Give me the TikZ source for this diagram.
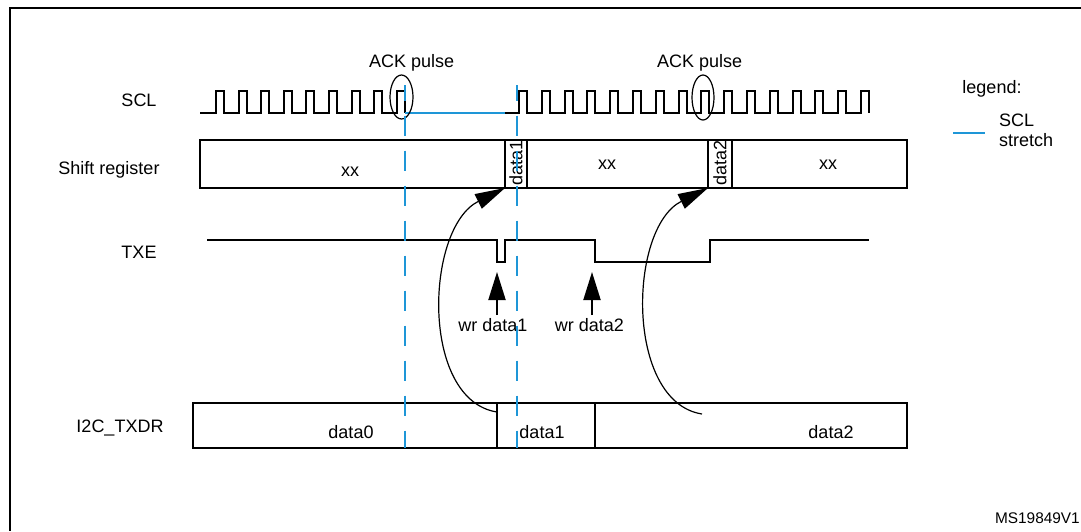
\documentclass[tikz,border=0pt]{standalone}
\usepackage{fontspec}
\setmainfont{Liberation Sans}
\usetikzlibrary{arrows.meta,shapes.geometric}
\definecolor{stretchblue}{RGB}{30,150,215}
\begin{document}
\begin{tikzpicture}[x=1pt,y=-1pt,
  font=\fontsize{18}{21}\selectfont,
  wave/.style={line width=2pt},
  cell/.style={draw,line width=2pt,anchor=north west,inner sep=0pt,outer sep=0pt},
  stretchline/.style={stretchblue,line width=2pt},
  guide/.style={stretchblue,line width=2pt,dash pattern=on 20pt off 15pt,dash phase=4.5pt},
  ackring/.style={draw,ellipse,line width=1.2pt,inner sep=0pt},
  lbl/.style={inner sep=0pt},
  loadarrow/.style={line width=1.2pt,-{Triangle[length=30pt,width=16pt]}},
  wrarrow/.style={line width=2pt,-{Triangle[length=28pt,width=17pt]}},
  frameline/.style={line width=2pt,line cap=butt}]
\useasboundingbox (0,0) rectangle (1081,531);
% frame
\draw[frameline] (1081,8) -- (10,8) -- (10,531);
% row labels
\node[lbl] (lscl) at (139,100) {SCL};
\node[lbl] (lsr) at (109,170) {Shift register};
\node[lbl] (ltxe) at (139,252) {TXE};
\node[lbl] (ltxdr) at (120,428) {I2C\_TXDR};
% SCL waveform, first burst
\draw[wave] (200,113) foreach \k in {0,...,8} {
  -- ({216+22.6*\k},113) -- ({216+22.6*\k},91) -- ({224+22.6*\k},91) -- ({224+22.6*\k},113) };
% clock stretch
\coordinate (st0) at (405,112.5);
\coordinate (st1) at (505,112.5);
\draw[stretchline] (st0) -- (st1);
% SCL waveform, second burst
\draw[wave] (505,113) foreach \k in {0,...,15} {
  -- ({519+22.8*\k},113) -- ({519+22.8*\k},91) -- ({527+22.8*\k},91) -- ({527+22.8*\k},113) };
% ACK pulse marks
\node[ackring,minimum width=23pt,minimum height=44pt] (ack1) at (401.5,97) {};
\node[ackring,minimum width=22pt,minimum height=45pt] (ack2) at (703,97.5) {};
\node[lbl] (ack1lbl) at (411.7,63) {ACK pulse};
\node[lbl] (ack2lbl) at (699.7,63) {ACK pulse};
% shift register cells
\node[cell,minimum width=305pt,minimum height=48pt] (sr0) at (200,140) {};
\node[cell,minimum width=22pt,minimum height=48pt] (sr1) at (505,140) {};
\node[cell,minimum width=181pt,minimum height=48pt] (sr2) at (527,140) {};
\node[cell,minimum width=24pt,minimum height=48pt] (sr3) at (708,140) {};
\node[cell,minimum width=175pt,minimum height=48pt] (sr4) at (732,140) {};
\node[lbl] (sr0t) at (350,172) {xx};
\node[lbl,rotate=90] (sr1t) at (516,163) {data1};
\node[lbl] (sr2t) at (607,165) {xx};
\node[lbl,rotate=90] (sr3t) at (720,163) {data2};
\node[lbl] (sr4t) at (828,165) {xx};
% TXDR cells
\node[cell,minimum width=304pt,minimum height=45pt] (tx0) at (193,403) {};
\node[cell,minimum width=98pt,minimum height=45pt] (tx1) at (497,403) {};
\node[cell,minimum width=312pt,minimum height=45pt] (tx2) at (595,403) {};
\node[lbl] (tx0t) at (351,432) {data0};
\node[lbl] (tx1t) at (542,432) {data1};
\node[lbl] (tx2t) at (831,432) {data2};
% TXE
\draw[wave] (207,240) -- (497,240) -- (497,262) -- (505,262) -- (505,240) -- (595,240)
  -- (595,262) -- (710,262) -- (710,240) -- (869,240);
% write arrows
\node[lbl] (wr1) at (493,325) {wr data1};
\node[lbl] (wr2) at (589.5,325) {wr data2};
\coordinate (wr1tip) at (497,272);
\coordinate (wr2tip) at (592,272);
\draw[wrarrow] (wr1.north -| wr1tip) ++(0,-3) -- (wr1tip);
\draw[wrarrow] (wr2.north -| wr2tip) ++(0,-3) -- (wr2tip);
% load arrows TXDR -> shift register
\coordinate (ld1) at (497,412);
\coordinate (ld2) at (702,414);
\draw[loadarrow] (ld1) .. controls (420,400) and (425,228) .. (sr1.south west);
\draw[loadarrow] (ld2) .. controls (625,402) and (628,228) .. (sr3.south west);
% dashed guides
\coordinate (g1a) at (405,85);
\coordinate (g1b) at (405,448);
\coordinate (g2a) at (517,85);
\coordinate (g2b) at (517,448);
\draw[guide] (g1a) -- (g1b);
\draw[guide] (g2a) -- (g2b);
% legend
\node[lbl] (leg) at (992,89) {legend:};
\coordinate (lega) at (953,133);
\coordinate (legb) at (985,133);
\draw[stretchline] (lega) -- (legb);
\node[lbl,anchor=west,align=left,font=\fontsize{18}{20}\selectfont] (legt) at (999,130) {SCL\\stretch};
% figure id
\node[lbl,font=\fontsize{15.4}{18}\selectfont,anchor=east] (fid) at (1080,518) {MS19849V1};
\end{tikzpicture}
\end{document}
